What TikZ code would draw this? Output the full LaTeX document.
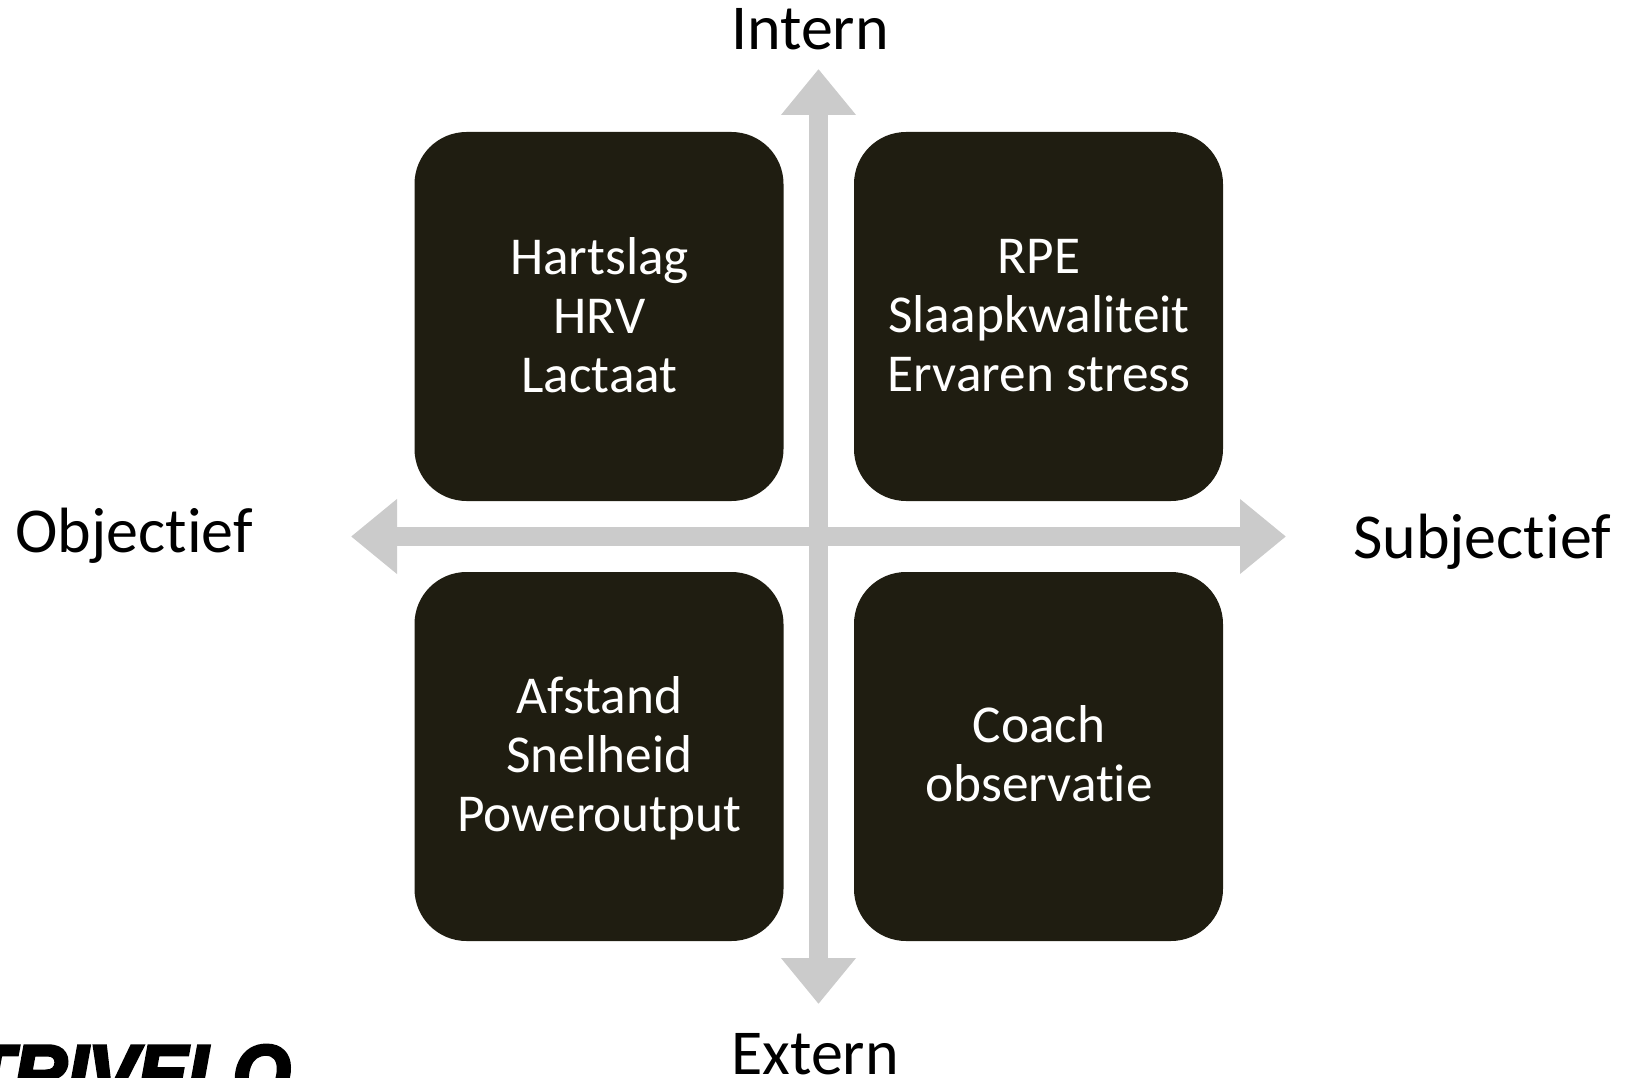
\documentclass[tikz,border=0pt]{standalone}
\usepackage{fontspec}
\usetikzlibrary{arrows.meta}
\setmainfont[Ligatures=NoCommon]{Carlito}
\newfontfamily\logofont[FakeBold=4,FakeStretch=0.93]{Liberation Sans Bold Italic}
\definecolor{boxdark}{HTML}{1F1D11}
\definecolor{axisgrey}{HTML}{CBCBCB}
\tikzset{
  x=1pt,y=-1pt,
  quad/.style={fill=boxdark,rounded corners=52pt,minimum width=369pt,minimum height=369pt,inner sep=0pt},
  quadtext/.style={text=white,inner sep=0pt,align=center,font=\fontsize{53.3}{59}\selectfont},
  axislabel/.style={text=black,inner sep=0pt,anchor=base,font=\fontsize{64}{70}\selectfont},
  axisarrow/.style={draw=axisgrey,line width=19pt,{Triangle[length=46pt,width=72pt,fill=axisgrey]}-{Triangle[length=46pt,width=72pt,fill=axisgrey]}}
}
\begin{document}
\begin{tikzpicture}
\useasboundingbox (0,0) rectangle (1626,1078);
\coordinate (top) at (818.5,69);
\coordinate (bottom) at (818.5,1004);
\coordinate (left) at (351,536.5);
\coordinate (right) at (1286,536.5);
\draw[axisarrow] (left) -- (right);
\draw[axisarrow] (top) -- (bottom);
\node[quad] (a) at (599,316.5) {};
\node[quad] (b) at (1038.5,316.5) {};
\node[quad] (c) at (599,756.5) {};
\node[quad] (d) at (1038.5,756.5) {};
\node[quadtext] (at) at (599.5,315) {Hartslag\\HRV\\Lactaat};
\node[quadtext] (bt) at (1039,316) {RPE\\Slaapkwaliteit\\Ervaren stress};
\node[quadtext] (ct) at (599.5,758) {Afstand\\Snelheid\\Poweroutput};
\node[quadtext] (dt) at (1039,754) {Coach\\observatie};
\node[axislabel] (intern) at (810,50) {Intern};
\node[axislabel] (extern) at (815,1074) {Extern};
\node[axislabel] (obj) at (134,552) {Objectief};
\node[axislabel] (subj) at (1482,558) {Subjectief};
\node[inner sep=0pt,anchor=base west,font=\logofont\fontsize{80}{80}\selectfont] (logo) at (-32,1101) {TRIVELO};
\end{tikzpicture}
\end{document}
